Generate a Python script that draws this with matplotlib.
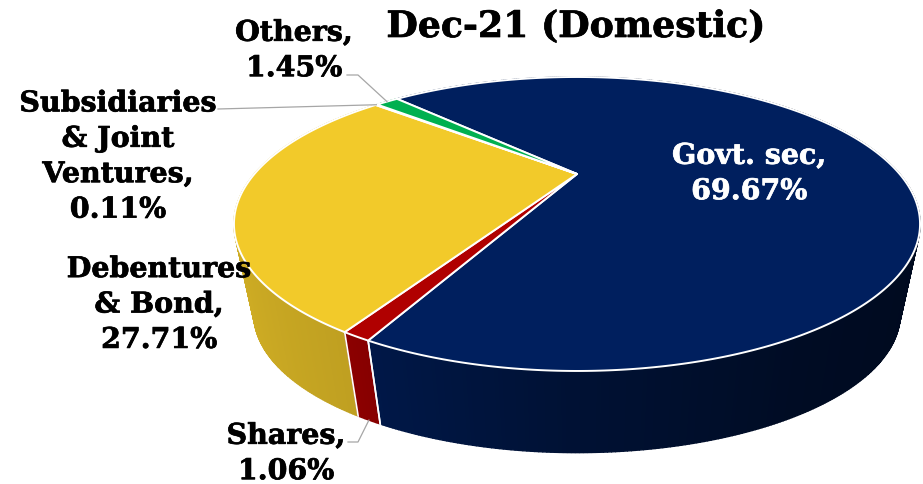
import matplotlib

matplotlib.use("Agg")
import matplotlib.patheffects as pe
import matplotlib.pyplot as plt
import numpy as np

title = "Dec-21 (Domestic)"
categories = ["Govt. sec", "Shares", "Debentures\n& Bond", "Subsidiaries\n& Joint\nVentures", "Others"]
shares = [69.67, 1.06, 27.71, 0.11, 1.45]
colors = ["#001F5E", "#B00000", "#F2CA2A", "#C8C8C8", "#00B050"]

# perspective of the disc, in pixels
CX, CY = 577, 175
RX, RY, TILT = 322.6, 130.0, 0.34
START = 134.0
WALL_SCALE, VANISH_Y = 0.942, 1780
SHADE_U = [-1.0, -0.5, 0.0, 0.5, 1.0]
SHADE_K = [0.87, 0.79, 0.55, 0.38, 0.32]


def rim(deg, wall=False):
    """Project an angle on the unit circle to picture coordinates."""
    t = np.radians(deg)
    u, v = np.cos(t), np.sin(t)
    w = 1 + TILT * v
    x = CX + RX * u / w
    y = CY - RY * v / w
    if wall:
        x = CX + WALL_SCALE * (x - CX)
        y = VANISH_Y + WALL_SCALE * (y - VANISH_Y)
    return x, y


fig = plt.figure(figsize=(9.23, 4.85), dpi=100)
ax = fig.add_axes([0, 0, 1, 1])
ax.set_xlim(0, 923)
ax.set_ylim(485, 0)
ax.axis("off")

sweeps = np.array(shares) * 3.6
ends = START - np.cumsum(sweeps)
starts = ends + sweeps

# side wall, split in thin slices so the shade can change along it
slices = []
for a0, a1, col in zip(starts, ends, colors):
    edges = np.linspace(a0, a1, max(int(a0 - a1), 1) * 2 + 1)
    base = np.array(matplotlib.colors.to_rgb(col))
    for e0, e1 in zip(edges[:-1], edges[1:]):
        mid = np.radians((e0 + e1) / 2)
        slices.append((np.sin(mid), e0, e1, base * np.interp(np.cos(mid), SHADE_U, SHADE_K)))
for _, e0, e1, shade in sorted(slices, key=lambda s: -s[0]):
    xt, yt = rim(np.array([e0, e1]))
    xb, yb = rim(np.array([e1, e0]), wall=True)
    ax.fill(np.r_[xt, xb], np.r_[yt, yb], facecolor=shade, edgecolor=shade, lw=1.0, zorder=1)

for a in np.r_[starts, ends[0]]:
    if np.sin(np.radians(a)) < 0:
        xt, yt = rim(a)
        xb, yb = rim(a, wall=True)
        ax.plot([xt, xb], [yt, yb], color="white", lw=1.2, zorder=2)

# top face
for a0, a1, col in zip(starts, ends, colors):
    x, y = rim(np.linspace(a0, a1, max(int(a0 - a1), 1) * 2 + 2))
    ax.fill(np.r_[CX, x], np.r_[CY, y], facecolor=col, edgecolor="white", lw=1.4,
            joinstyle="round", zorder=3)

font = dict(family="DejaVu Serif", fontweight="bold", ha="center", va="center", zorder=5)
heavy = [pe.withStroke(linewidth=0.5, foreground="black")]
ax.text(576, 28, title, fontsize=26.1, color="black", path_effects=heavy, **font)

label_pos = [(749, 175), (286, 455), (159, 306), (118, 158), (294, 52)]
label_color = ["white", "black", "black", "black", "black"]
for name, val, pos, col in zip(categories, shares, label_pos, label_color):
    ax.text(pos[0], pos[1], f"{name},\n{val:.2f}%", fontsize=20.5, color=col, linespacing=1.4,
            path_effects=[pe.withStroke(linewidth=0.5, foreground=col)], **font)

# leader lines from outside labels to their slices
mids = (starts + ends) / 2
leaders = {
    1: [(348, 443), (358, 443)],
    3: [(218, 110)],
    4: [(347, 76), (358, 76)],
}
for idx, pts in leaders.items():
    xs, ys = zip(*pts)
    tx, ty = rim(mids[idx], wall=idx == 1)
    ax.plot([*xs, tx], [*ys, ty], color="#A6A6A6", lw=0.9, zorder=4)

fig.savefig("out.png", dpi=100)
plt.close(fig)
